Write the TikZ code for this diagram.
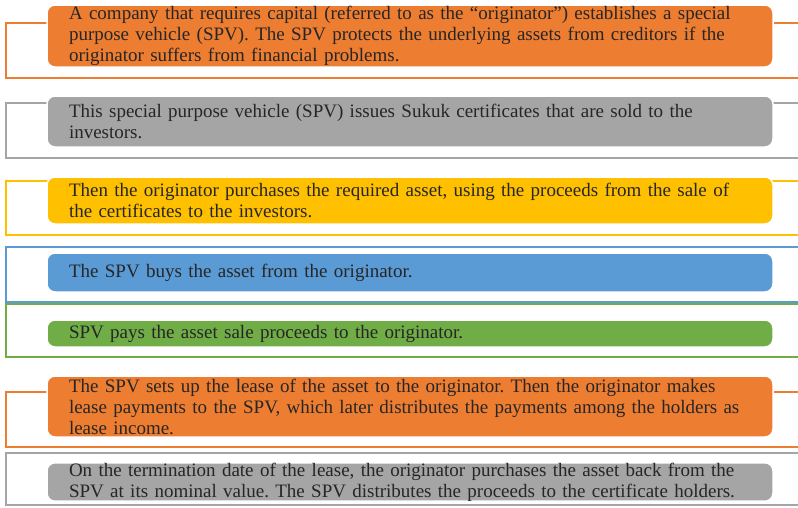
\documentclass[tikz,border=0pt]{standalone}
\usepackage{fontspec}
\setmainfont{Liberation Serif}
\usepackage{tikz}
\definecolor{sukorange}{HTML}{ED7D31}
\definecolor{sukgray}{HTML}{A5A5A5}
\definecolor{sukyellow}{HTML}{FFC000}
\definecolor{sukblue}{HTML}{5B9BD5}
\definecolor{sukgreen}{HTML}{70AD47}
\tikzset{
  stepbox/.style={rounded corners=8pt, draw=white, line width=1.5pt,
    minimum width=726pt, text width=682pt, inner xsep=22pt, inner ysep=0pt,
    align=left, text=black!85, font=\frenchspacing\fontsize{19}{21}\selectfont},
  frame/.style={line width=1.6pt}
}

\begin{document}
\begin{tikzpicture}[x=1pt,y=-1pt]
                \useasboundingbox (0,0) rectangle (798,507);
                \clip (0,0) rectangle (798,507);
                \draw[frame,sukorange] (800,23) -| (6,78) -- (800,78);
                \draw[frame,sukgray] (800,103) -| (6,158) -- (800,158);
                \draw[frame,sukyellow] (800,181) -| (6,235) -- (800,235);
                \draw[frame,sukblue] (800,247) -| (6,302) -- (800,302);
                \draw[frame,sukgreen] (800,304) -| (6,357) -- (800,357);
                \draw[frame,sukorange] (800,392) -| (6,447) -- (800,447);
                \draw[frame,sukgray] (800,453) -| (6,505) -- (800,505);
                \node[stepbox,fill=sukorange,minimum height=62pt] (capital) at (410,36)
                  {A company that requires capital (referred to as the “originator”) establishes a special\\
                   purpose vehicle (SPV). The SPV protects the underlying assets from creditors if the\\
                   originator suffers from financial problems.};
                \node[stepbox,fill=sukgray,minimum height=51pt] (issue) at (410,121.5)
                  {This special purpose vehicle (SPV) issues Sukuk certificates that are sold to the\\
                   investors.};
                \node[stepbox,fill=sukyellow,minimum height=47pt] (purchase) at (410,200.5)
                  {Then the originator purchases the required asset, using the proceeds from the sale of\\
                   the certificates to the investors.};
                \node[stepbox,fill=sukblue,minimum height=39pt] (buy) at (410,272.5)
                  {The SPV buys the asset from the originator.};
                \node[stepbox,fill=sukgreen,minimum height=27pt] (pay) at (410,333.5)
                  {SPV pays the asset sale proceeds to the originator.};
                \node[stepbox,fill=sukorange,minimum height=61pt] (lease) at (410,406.5)
                  {The SPV sets up the lease of the asset to the originator. Then the originator makes\\
                   lease payments to the SPV, which later distributes the payments among the holders as\\
                   lease income.};
                \node[stepbox,fill=sukgray,minimum height=32pt] (buyback) at (410,482)
                  {On the termination date of the lease, the originator purchases the asset back from the\\
                   SPV at its nominal value. The SPV distributes the proceeds to the certificate holders.};
\end{tikzpicture}
\end{document}
